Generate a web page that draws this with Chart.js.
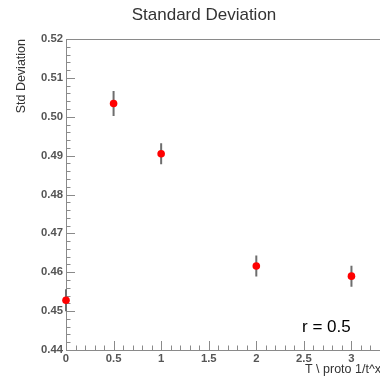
<!DOCTYPE html>
<html>
<head>
<meta charset="utf-8">
<script src="https://cdn.jsdelivr.net/npm/chart.js@4/dist/chart.umd.min.js"></script>
<style>
  html, body { margin: 0; padding: 0; background: #fff; }
  #wrap { width: 380px; height: 380px; position: relative; }
</style>
</head>
<body>
<div id="wrap"><canvas id="c"></canvas></div>
<script>
// ---- data ----
const xValues = [0, 0.5, 1, 2, 3];
const yValues = [0.4528, 0.5034, 0.4905, 0.4616, 0.4590];
const yErrors = [0.0028, 0.0032, 0.0027, 0.0027, 0.0027];
const xTickValues = [0, 0.5, 1, 1.5, 2, 2.5, 3];
const xTickLabels = ["0", "0.5", "1", "1.5", "2", "2.5", "3"];
const yTickValues = [0.44, 0.45, 0.46, 0.47, 0.48, 0.49, 0.50, 0.51, 0.52];
const yTickLabels = ["0.44", "0.45", "0.46", "0.47", "0.48", "0.49", "0.50", "0.51", "0.52"];
const chartTitle = "Standard Deviation";
const yTitle = "Std Deviation";
const xTitle = "T \\ proto 1/t^x";
const annotationText = "r = 0.5";

const FONT = "'Liberation Sans', Arial, Helvetica, sans-serif";

const rootStyle = {
  id: 'rootStyle',
  beforeDatasetsDraw(chart) {
    const ctx = chart.ctx;
    const xs = chart.scales.x, ys = chart.scales.y;
    const a = chart.chartArea;
    ctx.save();
    // frame
    ctx.strokeStyle = '#8a8a8a';
    ctx.lineWidth = 1;
    ctx.strokeRect(a.left + 0.5, a.top + 0.5, a.right - a.left, a.bottom - a.top);
    // y ticks (inward)
    ctx.beginPath();
    for (let i = 0; i < yTickValues.length; i++) {
      const v = yTickValues[i];
      const py = Math.round(ys.getPixelForValue(v)) + 0.5;
      ctx.moveTo(a.left, py); ctx.lineTo(a.left + 9, py);
      if (i < yTickValues.length - 1) {
        const step = (yTickValues[i + 1] - v) / 5;
        for (let k = 1; k < 5; k++) {
          const my = Math.round(ys.getPixelForValue(v + k * step)) + 0.5;
          ctx.moveTo(a.left, my); ctx.lineTo(a.left + 4.5, my);
        }
      }
    }
    // x ticks (inward)
    const xStep = (xTickValues[1] - xTickValues[0]) / 5;
    for (let v = xTickValues[0], k = 0; v <= xs.max + 1e-9; k++, v = xTickValues[0] + k * xStep) {
      const px = Math.round(xs.getPixelForValue(v)) + 0.5;
      const len = (k % 5 === 0) ? 9 : 4.5;
      ctx.moveTo(px, a.bottom); ctx.lineTo(px, a.bottom - len);
    }
    ctx.stroke();
    // error bars
    ctx.strokeStyle = '#6e6e6e';
    ctx.lineWidth = 2;
    ctx.beginPath();
    for (let i = 0; i < xValues.length; i++) {
      const px = xs.getPixelForValue(xValues[i]);
      ctx.moveTo(px, ys.getPixelForValue(yValues[i] + yErrors[i]));
      ctx.lineTo(px, ys.getPixelForValue(yValues[i] - yErrors[i]));
    }
    ctx.stroke();
    ctx.restore();
  },
  afterDraw(chart) {
    const ctx = chart.ctx;
    const a = chart.chartArea;
    ctx.save();
    ctx.fillStyle = '#333';
    // title
    ctx.font = '17px ' + FONT;
    ctx.textAlign = 'center';
    ctx.textBaseline = 'middle';
    ctx.fillText(chartTitle, 204, 15);
    // y title
    ctx.save();
    ctx.font = '12.5px ' + FONT;
    ctx.translate(22, a.top);
    ctx.rotate(-Math.PI / 2);
    ctx.textAlign = 'right';
    ctx.textBaseline = 'middle';
    ctx.fillText(yTitle, 0, 0);
    ctx.restore();
    // x title
    ctx.font = '12.5px ' + FONT;
    ctx.textAlign = 'right';
    ctx.textBaseline = 'middle';
    ctx.fillText(xTitle, 381, 370);
    // annotation
    ctx.fillStyle = '#000';
    ctx.font = '17px ' + FONT;
    ctx.textAlign = 'left';
    ctx.textBaseline = 'alphabetic';
    ctx.fillText(annotationText, 302, 331.5);
    ctx.restore();
  }
};

new Chart(document.getElementById('c'), {
  type: 'scatter',
  data: {
    datasets: [{
      data: xValues.map((x, i) => ({ x: x, y: yValues[i] })),
      pointBackgroundColor: '#ff0000',
      pointBorderColor: '#ff0000',
      pointRadius: 3.8,
      pointBorderWidth: 0,
      clip: false
    }]
  },
  options: {
    responsive: true,
    maintainAspectRatio: false,
    devicePixelRatio: 1,
    animation: false,
    layout: { autoPadding: false, padding: { left: 0, top: 39, right: 0, bottom: 0 } },
    plugins: { legend: { display: false }, tooltip: { enabled: false }, title: { display: false } },
    scales: {
      x: {
        type: 'linear', min: 0, max: 3.3,
        border: { display: false },
        grid: { display: false, drawTicks: false },
        afterBuildTicks: s => { s.ticks = xTickValues.map(v => ({ value: v })); },
        afterFit: s => { s.height = 30; s.paddingLeft = 0; s.paddingRight = 0; },
        ticks: {
          autoSkip: false, maxRotation: 0, padding: 2,
          color: '#555', font: { family: FONT, size: 11.3, weight: 'bold' },
          callback: (v) => { const i = xTickValues.indexOf(v); return i >= 0 ? xTickLabels[i] : ''; }
        }
      },
      y: {
        type: 'linear', min: 0.44, max: 0.52,
        border: { display: false },
        grid: { display: false, drawTicks: false },
        afterBuildTicks: s => { s.ticks = yTickValues.map(v => ({ value: v })); },
        afterFit: s => { s.width = 66; },
        ticks: {
          autoSkip: false, padding: 3,
          color: '#555', font: { family: FONT, size: 11.3, weight: 'bold' },
          callback: (v) => {
            let i = yTickValues.findIndex(t => Math.abs(t - v) < 1e-9);
            return i >= 0 ? yTickLabels[i] : '';
          }
        }
      }
    }
  },
  plugins: [rootStyle]
});
</script>
</body>
</html>
